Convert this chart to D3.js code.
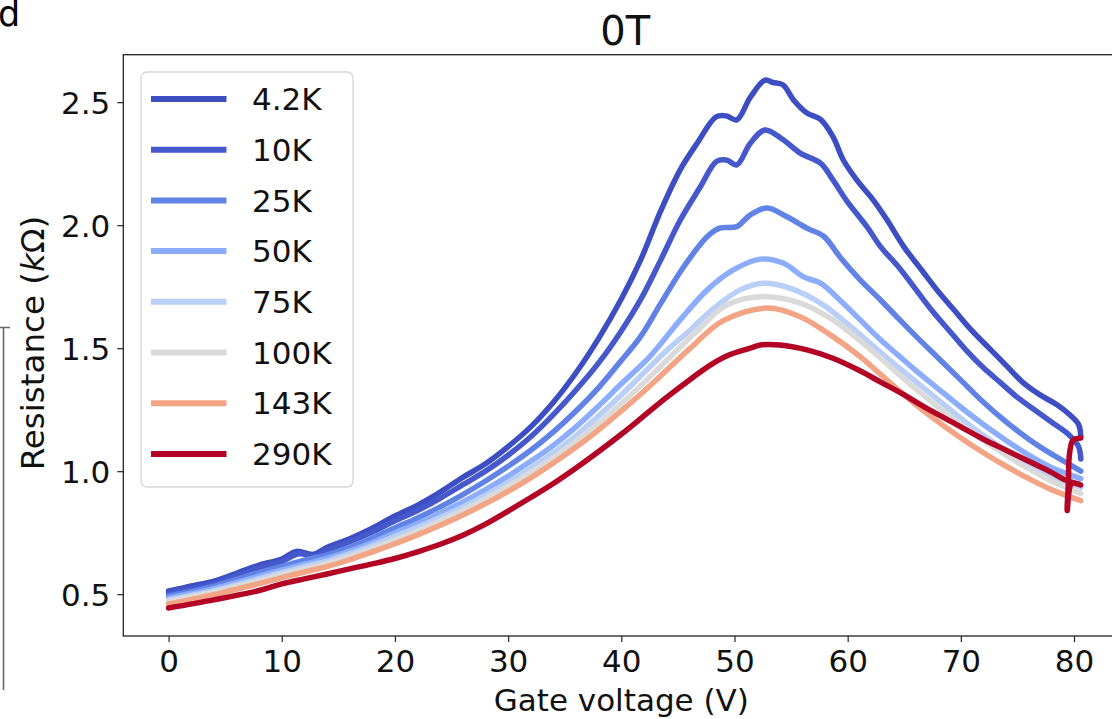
<!DOCTYPE html>
<html><head><meta charset="utf-8">
<script src="https://cdn.jsdelivr.net/npm/d3@7"></script>
<style>
html,body{margin:0;padding:0;background:#fff;}
svg{display:block;font-family:"DejaVu Sans",sans-serif;}
</style></head>
<body><svg id="c" width="1112" height="719"></svg>
<script>
const seriesLabels = ["4.2K","10K","25K","50K","75K","100K","143K","290K"];
const seriesColors = ["#3d4ec2","#4659cc","#6283e6","#8cadfb","#b9cff7","#dadada","#f2a485","#b40426"];
const xTicks = [0,10,20,30,40,50,60,70,80];
const yTicks = [0.5,1.0,1.5,2.0,2.5];

const r4K = [[0,0.513],[2,0.533],[4,0.553],[6,0.585],[8,0.618],[10,0.643],[11.3,0.674],[12.8,0.662],[14,0.69],[16,0.725],[18,0.768],[20,0.818],[22,0.862],[24,0.915],[26,0.975],[28,1.03],[30,1.10],[32,1.18],[34,1.28],[36,1.40],[38,1.54],[40,1.70],[41.7,1.858],[43.5,2.06],[45.2,2.225],[46.7,2.333],[48.4,2.441],[49.3,2.444],[50.2,2.428],[51.4,2.52],[52.7,2.59],[53.4,2.58],[54.3,2.57],[55.2,2.51],[56.4,2.456],[57.6,2.43],[58.7,2.36],[59.6,2.266],[60.8,2.184],[62.3,2.10],[63.5,2.02],[65,1.91],[66.5,1.82],[68,1.73],[69.5,1.65],[71,1.57],[72.5,1.50],[74,1.43],[75.5,1.36],[77,1.31],[78.5,1.27],[79.6,1.23],[80.4,1.19],[80.6,1.14]];
const r10K = [[0,0.503],[2,0.523],[4,0.543],[6,0.575],[8,0.607],[10,0.633],[11.5,0.664],[13,0.654],[14,0.678],[16,0.713],[18,0.753],[20,0.798],[22,0.84],[24,0.89],[26,0.945],[28,1.00],[30,1.065],[32,1.14],[34,1.23],[36,1.33],[38,1.44],[40,1.57],[41.7,1.697],[43.5,1.86],[45.2,2.02],[47,2.157],[48.4,2.259],[49.3,2.265],[50.2,2.245],[51.4,2.333],[52.7,2.387],[54.3,2.347],[55.8,2.293],[57.6,2.252],[58.7,2.184],[59.9,2.10],[61.7,1.994],[62.9,1.913],[64.5,1.83],[66,1.74],[67.5,1.65],[69,1.57],[70.5,1.49],[72,1.42],[73.5,1.36],[75,1.30],[76.5,1.25],[78,1.20],[79.5,1.15],[80.4,1.10],[80.6,1.05]];
const r25K = [[0,0.493],[4,0.533],[8,0.588],[10,0.613],[12,0.638],[14,0.66],[16,0.69],[18,0.728],[20,0.77],[22,0.81],[24,0.855],[26,0.905],[28,0.96],[30,1.02],[32,1.085],[34,1.16],[36,1.245],[38,1.34],[40,1.45],[41.7,1.547],[43.5,1.683],[45.5,1.83],[47.6,1.954],[48.7,1.988],[50.2,1.994],[51.4,2.042],[52.9,2.07],[54.6,2.035],[56.4,1.988],[57.9,1.954],[59.3,1.872],[61.1,1.778],[62.9,1.696],[64.5,1.62],[66,1.55],[68,1.46],[70,1.37],[72,1.28],[74,1.20],[76,1.13],[78,1.07],[79.5,1.03],[80.6,1.00]];
const r50K = [[0,0.484],[4,0.522],[8,0.573],[10,0.598],[12,0.622],[14,0.645],[16,0.675],[18,0.71],[20,0.75],[22,0.787],[24,0.83],[26,0.875],[28,0.925],[30,0.98],[32,1.04],[34,1.105],[36,1.18],[38,1.265],[40,1.355],[42.6,1.47],[45.2,1.615],[47.6,1.737],[49.9,1.818],[52.3,1.862],[54.3,1.846],[56.1,1.79],[57.6,1.764],[59.3,1.696],[61.1,1.615],[62.9,1.534],[64.5,1.47],[66,1.41],[68,1.335],[70,1.26],[72,1.19],[74,1.125],[76,1.065],[78,1.015],[80.6,0.97]];
const r75K = [[0,0.477],[4,0.514],[8,0.563],[10,0.588],[12,0.612],[14,0.634],[16,0.664],[18,0.698],[20,0.735],[22,0.772],[24,0.812],[26,0.855],[28,0.903],[30,0.955],[32,1.012],[34,1.075],[36,1.145],[38,1.225],[40,1.31],[42,1.40],[44,1.49],[46,1.57],[48,1.655],[50.5,1.737],[52.6,1.764],[54.9,1.744],[57.6,1.683],[59.9,1.602],[62.3,1.507],[64,1.44],[66,1.365],[68,1.29],[70,1.215],[72,1.145],[74,1.085],[76,1.03],[78,0.98],[80.6,0.935]];
const r100K = [[0,0.471],[4,0.509],[8,0.555],[10,0.58],[12,0.603],[14,0.625],[16,0.653],[18,0.686],[20,0.72],[22,0.757],[24,0.797],[26,0.84],[28,0.887],[30,0.938],[32,0.994],[34,1.055],[36,1.122],[38,1.195],[40,1.275],[42,1.36],[44,1.45],[46.7,1.57],[49.3,1.675],[52.6,1.71],[55.8,1.683],[58.7,1.615],[61.7,1.507],[64,1.415],[66,1.335],[68,1.26],[70,1.19],[72,1.125],[74,1.065],[76,1.01],[78,0.96],[80.6,0.91]];
const r143K = [[0,0.46],[4,0.498],[8,0.543],[10,0.567],[12,0.59],[14,0.612],[16,0.64],[18,0.672],[20,0.705],[22,0.741],[24,0.78],[26,0.822],[28,0.868],[30,0.918],[32,0.973],[34,1.033],[36,1.098],[38,1.168],[40,1.245],[42,1.325],[44,1.41],[46.1,1.50],[49,1.612],[52.9,1.663],[55.8,1.628],[58.7,1.547],[61.1,1.466],[63,1.39],[65,1.31],[67,1.235],[70,1.135],[72,1.075],[74,1.02],[76,0.97],[78,0.925],[80.6,0.88]];
const r290K = [[0,0.444],[4,0.477],[8,0.515],[10,0.542],[12,0.562],[14,0.582],[16,0.603],[18,0.623],[20,0.645],[22,0.672],[24,0.703],[26,0.74],[28,0.785],[30,0.838],[32,0.893],[34,0.95],[36,1.013],[38,1.08],[40,1.15],[42,1.225],[44,1.30],[46,1.37],[48,1.435],[49.5,1.472],[51.4,1.50],[52.3,1.513],[54,1.513],[56.4,1.493],[58.7,1.459],[61,1.41],[63,1.36],[65,1.31],[67,1.255],[70,1.18],[72,1.13],[74,1.085],[76,1.04],[78,0.995],[79.2,0.965],[80.6,0.944],[79.8,0.95],[79.4,0.84],[79.5,0.95],[79.6,1.07],[79.9,1.125],[80.6,1.135]];

const seriesData = [r4K, r10K, r25K, r50K, r75K, r100K, r143K, r290K];

const svg = d3.select("#c");
const L = 123.3, R = 1119.3, T = 54.7, B = 636;
const x = d3.scaleLinear().domain([-4, 84]).range([L, R]);
const y = d3.scaleLinear().domain([0.33, 2.693]).range([B, T]);

// stray panel edge at far left
svg.append("path").attr("d","M0,327.5H10M3.5,327.5V690").attr("fill","none").attr("stroke","#666").attr("stroke-width",1.6);

// panel letter
svg.append("text").attr("x",-2).attr("y",26).attr("font-size",35).text("d");

const clipId = "pc";
svg.append("clipPath").attr("id",clipId).append("rect").attr("x",L).attr("y",T).attr("width",R-L).attr("height",B-T);

const line = d3.line().x(d=>x(d[0])).y(d=>y(d[1])).curve(d3.curveCatmullRom.alpha(0.5));
const g = svg.append("g").attr("clip-path",`url(#${clipId})`);
seriesData.forEach((s,i)=>{
  g.append("path").attr("d",line(s)).attr("fill","none")
   .attr("stroke",seriesColors[i]).attr("stroke-width",5.5)
   .attr("stroke-linejoin","round").attr("stroke-linecap","round");
});

// axes
const xa = svg.append("g").attr("transform",`translate(0,${B})`)
  .call(d3.axisBottom(x).tickValues(xTicks).tickSize(6).tickPadding(8).tickFormat(d3.format("d")));
const ya = svg.append("g").attr("transform",`translate(${L},0)`)
  .call(d3.axisLeft(y).tickValues(yTicks).tickSize(6).tickPadding(7).tickFormat(d3.format(".1f")));
[xa,ya].forEach(a=>{
  a.select(".domain").remove();
  a.selectAll("line").attr("stroke","#222").attr("stroke-width",1.2);
  a.selectAll("text").attr("font-family","DejaVu Sans").attr("font-size",31).attr("fill","#111");
});
xa.selectAll("text").attr("dy","0.71em");
ya.selectAll("text").attr("dy","0.36em");

// frame
svg.append("rect").attr("x",L).attr("y",T).attr("width",R-L).attr("height",B-T)
  .attr("fill","none").attr("stroke","#222").attr("stroke-width",1.3);

// labels
svg.append("text").attr("x",(L+R)/2+4).attr("y",45).attr("text-anchor","middle").attr("font-size",40).attr("fill","#111").text("0T");
svg.append("text").attr("x",(L+R)/2).attr("y",711).attr("text-anchor","middle").attr("font-size",31).attr("fill","#111").text("Gate voltage (V)");
const yl = svg.append("text").attr("transform",`translate(44,343) rotate(-90)`).attr("text-anchor","middle").attr("font-size",32.5).attr("fill","#111");
yl.append("tspan").text("Resistance (");
yl.append("tspan").attr("font-style","italic").text("k");
yl.append("tspan").text("Ω)");

// legend
const lg = svg.append("g");
lg.append("rect").attr("x",141).attr("y",72).attr("width",212).attr("height",415).attr("rx",6)
  .attr("fill","#fff").attr("fill-opacity",0.85).attr("stroke","#d6d6d6").attr("stroke-width",1.3);
seriesLabels.forEach((lab,i)=>{
  const cy = 99 + i*50.7;
  lg.append("line").attr("x1",151).attr("x2",226.5).attr("y1",cy).attr("y2",cy)
    .attr("stroke",seriesColors[i]).attr("stroke-width",6);
  lg.append("text").attr("x",252).attr("y",cy).attr("dy","0.36em").attr("font-size",31).attr("fill","#111").text(lab);
});
</script>
</body></html>
